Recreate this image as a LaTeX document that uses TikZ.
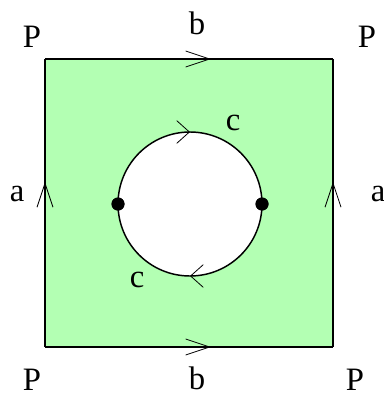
\documentclass[tikz,border=0pt]{standalone}
\usepackage{fontspec}
\setmainfont{Liberation Serif}
\usetikzlibrary{arrows.meta,decorations.markings}
\definecolor{lgreen}{RGB}{179,255,179}
\tikzstyle{vx}=[shape=circle, minimum size=9.75pt, inner sep=0, fill=black]
\tikzstyle{lbl}=[font=\fontsize{24.5}{28}\selectfont, inner sep=0]
\tikzstyle{side}=[line width=1.1pt, postaction={decorate},
  decoration={markings, mark=at position #1 with {\arrow{Straight Barb[length=18pt,width=12pt,line width=0.6pt]}}}]
\tikzstyle{ring}=[line width=1.1pt, postaction={decorate},
  decoration={markings, mark=at position .5 with {\arrow{Straight Barb[length=9.5pt,width=17pt,line width=0.6pt]}}}]

\begin{document}
\begin{tikzpicture}[x=0.75pt, y=-0.75pt]
\useasboundingbox (0,0) rectangle (384,396);
\coordinate (bl) at (45,347);
\coordinate (br) at (333,347);
\coordinate (tl) at (45,59);
\coordinate (tr) at (333,59);
\fill[lgreen] (bl) rectangle (tr);
\fill[white] (190,204) circle (72);
\draw[side=.576] (bl)--(br);
\draw[side=.576] (tl)--(tr);
\draw[side=.573] (bl)--(tl);
\draw[side=.573] (br)--(tr);
\node at (118,204)[vx](l){};
\node at (262,204)[vx](r){};
\draw[ring] (l.center) arc (180:360:72);
\draw[ring] (r.center) arc (0:180:72);
\node at (118,204)[vx]{};
\node at (262,204)[vx]{};
% labels
\node at (32,37)[lbl](p1){P};
\node at (367,37)[lbl](p2){P};
\node at (32,380)[lbl](p3){P};
\node at (355,380)[lbl](p4){P};
\node at (197,23)[lbl](b1){b};
\node at (197,378)[lbl](b2){b};
\node at (17,194)[lbl](a1){a};
\node at (378,194)[lbl](a2){a};
\node at (233,123)[lbl](c1){c};
\node at (137,280)[lbl](c2){c};
\end{tikzpicture}
\end{document}
